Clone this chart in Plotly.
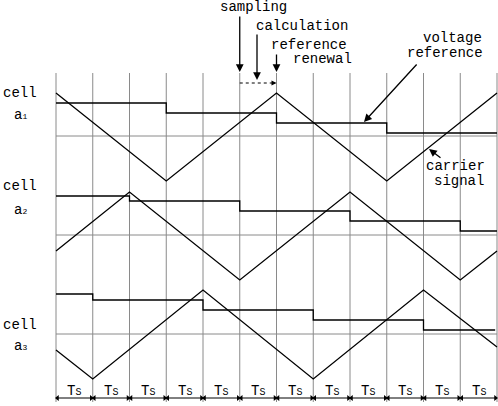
import plotly.graph_objects as go

# time in Ts units, vertical in drawing units (0 = top)
grid_t = list(range(13))

# cell a1
a1_car_t = [0, 3, 6, 9, 12]
a1_car_y = [93, 181, 93, 181, 93]
a1_ref_t = [0, 3, 3, 6, 6, 9, 9, 12]
a1_ref_y = [103, 103, 113, 113, 123, 123, 133, 133]
a1_zero = 136
# cell a2
a2_car_t = [0, 2, 5, 8, 11, 12]
a2_car_y = [251, 192, 280, 192, 280, 251]
a2_ref_t = [0, 2, 2, 5, 5, 8, 8, 11, 11, 12]
a2_ref_y = [196, 196, 201, 201, 211, 211, 221, 221, 231, 231]
a2_zero = 235
# cell a3
a3_car_t = [0, 1, 4, 7, 10, 12]
a3_car_y = [350, 379, 290, 379, 290, 347]
a3_ref_t = [0, 1, 1, 4, 4, 7, 7, 10, 10, 11.95]
a3_ref_y = [294, 294, 300, 300, 310, 310, 320, 320, 330, 330]
a3_zero = 334

FONT = "Liberation Mono"
TS = 36.75
fig = go.Figure()

# grid
for t in grid_t:
    fig.add_trace(go.Scatter(x=[t, t], y=[73, 402], mode='lines',
                             line=dict(color='#8a8a8a', width=1), hoverinfo='skip'))
for z in [a1_zero, a2_zero, a3_zero]:
    fig.add_trace(go.Scatter(x=[0, 12], y=[z, z], mode='lines',
                             line=dict(color='#8a8a8a', width=1), hoverinfo='skip'))

for tt, yy in [(a1_car_t, a1_car_y), (a1_ref_t, a1_ref_y), (a2_car_t, a2_car_y),
               (a2_ref_t, a2_ref_y), (a3_car_t, a3_car_y), (a3_ref_t, a3_ref_y)]:
    fig.add_trace(go.Scatter(x=tt, y=yy, mode='lines',
                             line=dict(color='black', width=1.3), hoverinfo='skip'))

# Ts spans
for k in range(12):
    fig.add_trace(go.Scatter(x=[k + 0.04, k + 0.96], y=[398, 398], mode='lines+markers',
                             line=dict(color='black', width=1),
                             marker=dict(symbol=['triangle-left', 'triangle-right'], size=5, color='black'),
                             hoverinfo='skip'))
    fig.add_annotation(x=k + 0.5, y=391, text='T<span style="font-size:10px">S</span>', showarrow=False,
                       font=dict(family=FONT, size=14, color='black'))

# sampling dotted arrow
fig.add_trace(go.Scatter(x=[5, 5.9], y=[83, 83], mode='lines',
                         line=dict(color='black', width=1, dash='dot'), hoverinfo='skip'))
fig.add_annotation(x=6, y=83, ax=5.85, ay=83, axref='x', ayref='y', xref='x', yref='y',
                   showarrow=True, arrowhead=2, arrowsize=1, arrowwidth=1,
                   arrowcolor='black', text='')

def arrow(x0, y0, x1, y1):
    fig.add_annotation(x=x1, y=y1, ax=x0, ay=y0, axref='x', ayref='y', text='',
                       showarrow=True, arrowhead=2, arrowsize=1.2, arrowwidth=1.3,
                       arrowcolor='black')

def px(p):
    return (p - 56) / TS

arrow(5, 15, 5, 72)
arrow(px(257), 33, px(257), 80)
arrow(6, 53, 6, 72)
arrow(px(418), 63, px(364), 122)
arrow(px(442), 159, px(429), 149)

def label(xp, y, s):
    fig.add_annotation(x=px(xp), y=y, text=s, showarrow=False,
                       font=dict(family=FONT, size=14, color='black'))

label(253, 7, 'sampling')
label(302, 26, 'calculation')
label(309, 45, 'reference')
label(322, 59, 'renewal')
label(452, 38, 'voltage')
label(445, 53, 'reference')
label(455, 166, 'carrier')
label(459, 181, 'signal')
for y, sub, yy in [(93, '1', 115), (186, '2', 210), (325, '3', 346)]:
    label(20, y, 'cell')
    label(20, yy, 'a<span style="font-size:8px">%s</span>' % sub)

fig.update_layout(
    width=498, height=406, margin=dict(l=0, r=0, t=0, b=0),
    plot_bgcolor='white', paper_bgcolor='white', showlegend=False,
    xaxis=dict(range=[-56 / TS, (498 - 56) / TS], visible=False, fixedrange=True),
    yaxis=dict(range=[406, 0], visible=False, fixedrange=True),
)
fig.write_html("out.html", post_script="document.body.style.margin='0';",
               config={'displayModeBar': False})
